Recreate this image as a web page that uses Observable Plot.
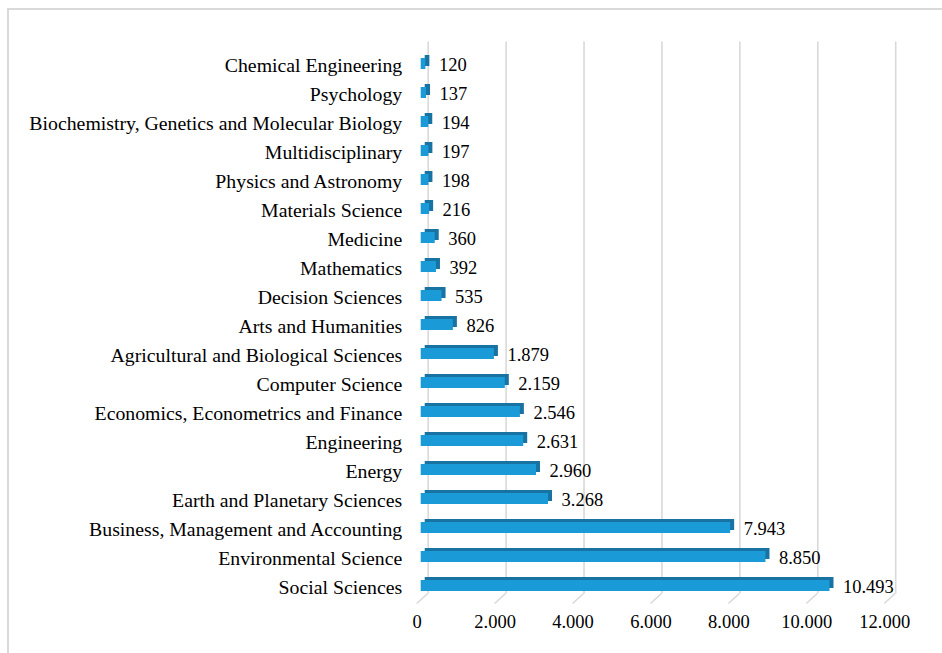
<!DOCTYPE html>
<html>
<head>
<meta charset="utf-8">
<script src="https://cdn.jsdelivr.net/npm/d3@7"></script>
<script src="https://cdn.jsdelivr.net/npm/@observablehq/plot@0.6"></script>
<style>
  body { margin: 0; background: #fff; overflow: hidden; }
  #wrap { position: relative; width: 942px; height: 653px; overflow: hidden; }
  #frame { position: absolute; left: 7px; top: 8px; width: 1100px; height: 1100px; border: 2px solid #d9d9d9; box-sizing: border-box; }
  #chart { position: absolute; left: 0; top: 0; }
  #chart svg text { font-family: 'Liberation Serif', serif !important; font-variant: normal !important; font-variant-numeric: normal !important; }
</style>
</head>
<body>
<div id="wrap"><div id="frame"></div><div id="chart"></div></div>
<script>
const categories = [
  "Chemical Engineering",
  "Psychology",
  "Biochemistry, Genetics and Molecular Biology",
  "Multidisciplinary",
  "Physics and Astronomy",
  "Materials Science",
  "Medicine",
  "Mathematics",
  "Decision Sciences",
  "Arts and Humanities",
  "Agricultural and Biological Sciences",
  "Computer Science",
  "Economics, Econometrics and Finance",
  "Engineering",
  "Energy",
  "Earth and Planetary Sciences",
  "Business, Management and Accounting",
  "Environmental Science",
  "Social Sciences"
];
const values = [120, 137, 194, 197, 198, 216, 360, 392, 535, 826, 1879, 2159, 2546, 2631, 2960, 3268, 7943, 8850, 10493];
const xTicks = [0, 2000, 4000, 6000, 8000, 10000, 12000];

const data = categories.map((c, i) => ({category: c, value: values[i]}));
const fmt = d3.formatLocale({decimal: ",", thousands: ".", grouping: [3], currency: ["", ""]}).format(",");
const font = "'Liberation Serif', serif";

const chart = Plot.plot({
  width: 942,
  height: 653,
  marginLeft: 420.7,
  marginRight: 53.8,
  marginTop: 48.5,
  marginBottom: 52.5,
  style: {fontFamily: font, fontSize: "18px", color: "#000", background: "transparent"},
  x: {domain: [0, 12000], axis: null},
  y: {domain: categories, padding: 0, axis: null},
  marks: [
    Plot.ruleX(xTicks, {x: d => d, stroke: "#d9d9d9", strokeWidth: 1.6, dx: 7, dy: -7}),
    Plot.barX(data, {x: "value", y: "category", fill: "#1873a3", dx: 4, dy: -3, insetTop: 9, insetBottom: 9}),
    Plot.barX(data, {x: "value", y: "category", fill: "#1a9ad6", insetTop: 9, insetBottom: 9}),
    Plot.text(data, {x: "value", y: "category", text: d => fmt(d.value), dx: 13, dy: 1, textAnchor: "start", fill: "#000", fontSize: 18.5, fontFamily: font}),
    Plot.text(categories, {y: d => d, frameAnchor: "left", dx: -19, dy: 1.5, textAnchor: "end", fill: "#000", fontSize: 19.8, fontFamily: font}),
    Plot.text(xTicks, {x: d => d, frameAnchor: "bottom", dy: 27, dx: -4, text: d => fmt(d), fill: "#000", fontSize: 18.5, fontFamily: font})
  ]
});

// floor diagonals drawn through Plot's x scale
const xs = chart.scale("x");
const svg = d3.select(chart);
const yFloor = 653 - 52.5;
svg.insert("g", ":first-child")
  .attr("stroke", "#d9d9d9").attr("stroke-width", 1.6)
  .selectAll("line").data(xTicks).join("line")
  .attr("x1", d => xs.apply(d) - 4).attr("y1", yFloor + 3)
  .attr("x2", d => xs.apply(d) + 7).attr("y2", yFloor - 7);

document.getElementById("chart").appendChild(chart);
</script>
</body>
</html>
